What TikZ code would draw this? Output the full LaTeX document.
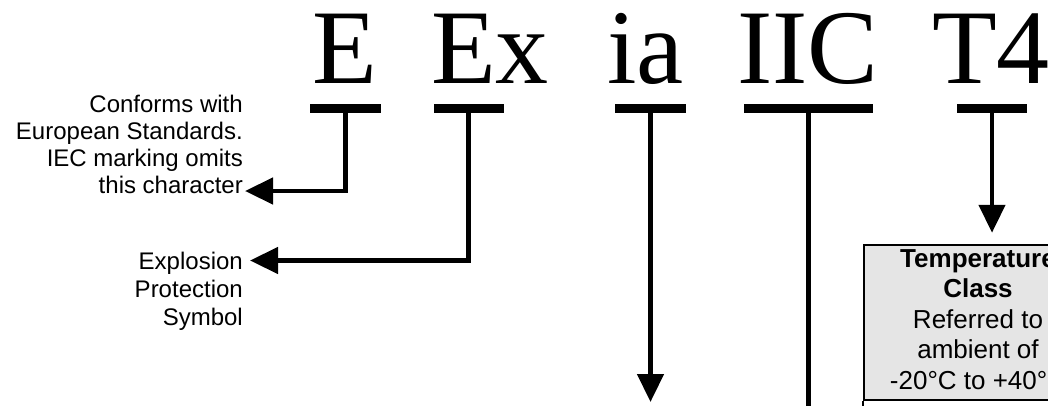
\documentclass[tikz,border=0pt]{standalone}
\usepackage{fontspec}
\setmainfont{Liberation Sans}
\newfontfamily\bigserif{Liberation Serif}
\usetikzlibrary{arrows.meta}
\begin{document}
\begin{tikzpicture}[x=1pt,y=-1pt,
  big/.style={font=\bigserif\fontsize{106}{106}\selectfont, inner sep=0pt, anchor=base west},
  barbox/.style={fill=black, inner sep=0pt, minimum height=9pt},
  lbl/.style={font=\fontsize{24}{27}\selectfont, align=right, inner sep=0pt, anchor=base east},
  conn/.style={line width=4.5pt, -{Triangle[length=28pt,width=26pt]}},
  plain/.style={line width=4.5pt},
  tbox/.style={draw=black, line width=2.5pt, fill=gray!20, minimum width=230pt, minimum height=155pt, inner sep=0pt},
  ttext/.style={font=\fontsize{26}{30.5}\selectfont, align=center, inner sep=0pt, anchor=base}
]
\useasboundingbox (0,0) rectangle (1048,405);
\clip (0,0) rectangle (1048,405);

% big marking
\node[big] (E)   at (312,83) {E};
\node[big] (Ex)  at (431,83) {Ex};
\node[big] (ia)  at (607,83) {ia};
\node[big] (IIC) at (737,83) {IIC};
\node[big] (T4)  at (932,83) {T4};

% bars
\node[barbox, minimum width=71pt]  (Ebar)   at (345.5,108.5) {};
\node[barbox, minimum width=70pt]  (Exbar)  at (468.5,108.5) {};
\node[barbox, minimum width=71pt]  (iabar)  at (650.5,108.5) {};
\node[barbox, minimum width=129pt] (IICbar) at (808.5,108.5) {};
\node[barbox, minimum width=70pt]  (T4bar)  at (992,108.5) {};

% left labels (anchor base = last line)
\node[lbl] (Elbl) at (243,193) {Conforms with\\European Standards.\\IEC marking omits\\this character};
\node[lbl, font=\fontsize{24}{28}\selectfont] (Exlbl) at (243,325) {Explosion\\Protection\\Symbol};

\coordinate (Etip) at (245,191);
\coordinate (Extip) at (250,260.5);
\coordinate (iatip) at (650.5,402);
\coordinate (IICend) at (808.5,430);

% temperature box
\node[tbox] (tbox) at (979,322.5) {};
\draw[line width=2.5pt] (tbox.south west) -- ++(0,60);
\node[ttext] (ttxt) at (978,389) {\textbf{Temperature}\\\textbf{Class}\\Referred to\\ambient of\\-20°C to +40°C};

% connectors
\draw[conn] (Ebar.south) |- (Etip);
\draw[conn] (Exbar.south) |- (Extip);
\draw[conn] (iabar.south) -- (iatip);
\draw[plain] (IICbar.south) -- (IICend);
\draw[conn, shorten >=11pt] (T4bar.south) -- (T4bar.south |- tbox.north);
\end{tikzpicture}
\end{document}
